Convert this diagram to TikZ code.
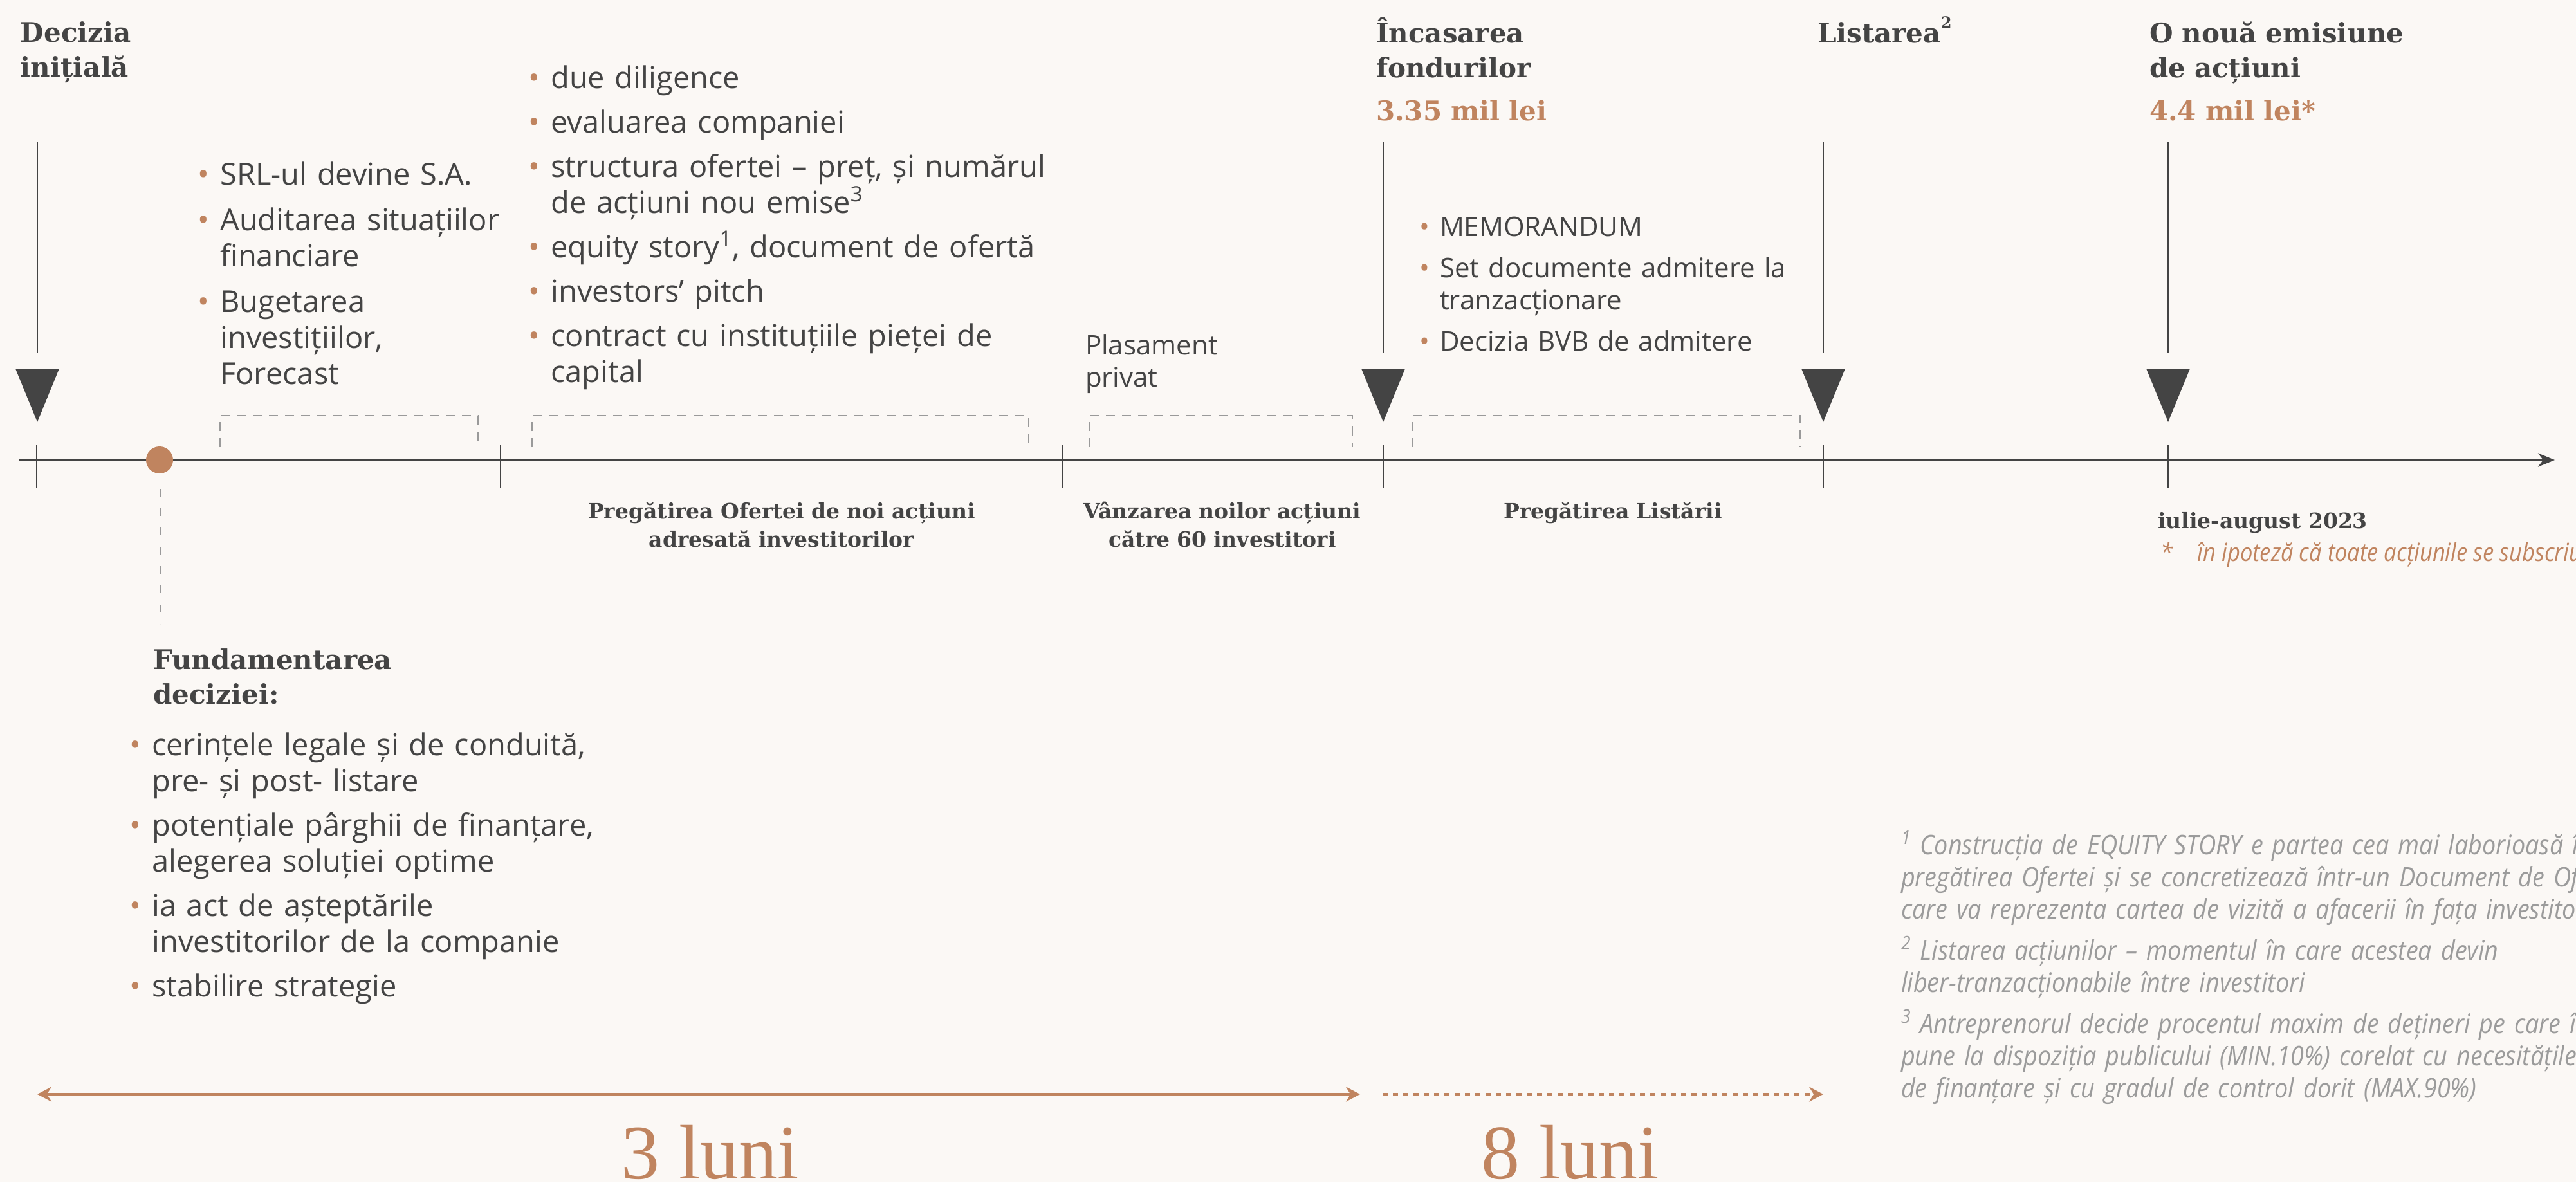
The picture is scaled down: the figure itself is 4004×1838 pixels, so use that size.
\documentclass[tikz,border=0pt]{standalone}
\usepackage{fontspec}
\setmainfont{Open Sans}
\newfontfamily\hdfont{DejaVu Serif}
\newfontfamily\bigserif{Liberation Serif}
\newfontfamily\condit[FakeStretch=0.885]{Open Sans Italic}
\newfontfamily\fnit[FakeStretch=0.9]{Open Sans Italic}
\usetikzlibrary{arrows.meta}
\definecolor{bg}{HTML}{FBF8F5}
\definecolor{accent}{HTML}{C0845F}
\definecolor{ink}{HTML}{444444}
\definecolor{dashgray}{HTML}{9A9A9A}
\definecolor{fngray}{HTML}{9B9B9B}
\newcommand{\bl}{\makebox[0.75em][l]{\textcolor{accent}{•}}}
\newcommand{\ct}{\hspace*{0.75em}}
\begin{document}
\begin{tikzpicture}[x=0.5pt,y=-0.5pt,
  every node/.style={inner sep=0pt,outer sep=0pt},
  heading/.style={font=\hdfont\bfseries\fontsize{21}{27}\selectfont,text=ink,anchor=base west,text width=300pt,align=left},
  seclabel/.style={font=\hdfont\bfseries\fontsize{16.5}{22}\selectfont,text=ink,anchor=base,text width=400pt,align=center},
  biglist/.style={font=\fontsize{23.5}{28}\selectfont,text=ink,anchor=base west,text width=450pt,align=left},
  smalllist/.style={font=\fontsize{21}{25}\selectfont,text=ink,anchor=base west,text width=350pt,align=left},
  fnote/.style={font=\fnit\fontsize{21}{25}\selectfont,text=fngray,anchor=base west,text width=700pt,align=left},
  axisline/.style={draw=ink,line width=1.5pt},
  markline/.style={draw=ink,line width=1.3pt},
  tickline/.style={draw=ink,line width=1.3pt},
  bracket/.style={draw=dashgray,line width=0.8pt,dash pattern=on 7pt off 5.5pt},
  spanarrow/.style={draw=accent,line width=1.6pt},
  duration/.style={font=\bigserif\fontsize{60}{62}\selectfont,text=accent,anchor=base west},
]
\useasboundingbox (0,0) rectangle (4004,1838);
\fill[bg] (0,0) rectangle (4004,1838);

% main axis
\coordinate (ax0) at (30,715);
\coordinate (ax1) at (3971,715);
\draw[axisline,-{Stealth[length=13pt,width=10.5pt,inset=4pt]}] (ax0) -- (ax1);

% ticks
\foreach \x in {57,778,1652,2150,2834,3370}{
  \draw[tickline] (\x,691) -- (\x,758);
}

% milestone markers
\foreach \n/\x in {d/58,i/2150,l/2834,o/3370}{
  \coordinate (top-\n) at (\x,220);
  \coordinate (bot-\n) at (\x,548);
  \draw[markline] (top-\n) -- (bot-\n);
  \fill[ink] (\x-34,573) -- (\x+34,573) -- (\x,656) -- cycle;
}

% dashed brackets
\draw[bracket] (342,695) -- (342,646) -- (743,646) -- (743,695);
\draw[bracket] (827,695) -- (827,646) -- (1599,646) -- (1599,695);
\draw[bracket] (1693,695) -- (1693,646) -- (2102,646) -- (2102,695);
\draw[bracket] (2195,695) -- (2195,646) -- (2798,646) -- (2798,695);

% decision dot
\node[circle,fill=accent,minimum size=21pt] (dot) at (248,715) {};
\coordinate (dotline) at (250,970);
\draw[draw=dashgray,line width=0.8pt,dash pattern=on 6pt off 9pt] (250,760) -- (dotline);

% headings
\node[heading] (h1) at (32,65) {Decizia\\inițială};
\node[heading] (h2) at (2139,66) {Încasarea\\fondurilor};
\node[heading,text=accent] (h2v) at (2139,187) {3.35 mil lei};
\node[heading] (h3) at (2825,66) {Listarea\raisebox{1.05ex}{\fontsize{12}{12}\selectfont 2}};
\node[heading] (h4) at (3341,66) {O nouă emisiune\\de acțiuni};
\node[heading,text=accent] (h4v) at (3341,187) {4.4 mil lei*};
\node[heading] (h5) at (238,1040) {Fundamentarea\\deciziei:};

% lists above axis
\node[biglist] (c1) at (307,287) {\bl SRL-ul devine S.A.\\[7.5pt]\bl Auditarea situațiilor\\\ct financiare\\[7.5pt]\bl Bugetarea\\\ct investițiilor,\\\ct Forecast};
\node[biglist] (c2) at (821,137.5) {\bl due diligence\\[6.5pt]\bl evaluarea companiei\\[6.5pt]\bl structura ofertei – preț, și numărul\\\ct de acțiuni nou emise\textsuperscript{3}\\[6.5pt]\bl equity story\textsuperscript{1}, document de ofertă\\[6.5pt]\bl investors’ pitch\\[6.5pt]\bl contract cu instituțiile pieței de\\\ct capital};
\node[smalllist] (c3) at (1687,551) {Plasament\\privat};
\node[smalllist] (c4) at (2206.5,367) {\bl MEMORANDUM\\[7pt]\bl Set documente admitere la\\\ct tranzacționare\\[7pt]\bl Decizia BVB de admitere};

% list below axis
\node[biglist] (c5) at (201,1174) {\bl cerințele legale și de conduită,\\\ct pre- și post- listare\\[6.5pt]\bl potențiale pârghii de finanțare,\\\ct alegerea soluției optime\\[6.5pt]\bl ia act de așteptările\\\ct investitorilor de la companie\\[6.5pt]\bl stabilire strategie};

% phase labels
\node[seclabel] (p1) at (1215,806) {Pregătirea Ofertei de noi acțiuni\\adresată investitorilor};
\node[seclabel] (p2) at (1900,806) {Vânzarea noilor acțiuni\\către 60 investitori};
\node[seclabel] (p3) at (2507,806) {Pregătirea Listării};
\node[font=\hdfont\bfseries\fontsize{16.5}{22}\selectfont,text=ink,anchor=base west] (date) at (3354,821) {iulie-august 2023};
\node[font=\condit\fontsize{19.5}{22}\selectfont,text=accent,anchor=base west] (star) at (3358,872) {*\quad în ipoteză că toate acțiunile se subscriu};

% footnotes
\node[fnote] (fn) at (2955,1328) {\textsuperscript{1} Construcția de EQUITY STORY e partea cea mai laborioasă în\\pregătirea Ofertei și se concretizează într-un Document de Ofertă,\\care va reprezenta cartea de vizită a afacerii în fața investitorilor\\[7pt]\textsuperscript{2} Listarea acțiunilor – momentul în care acestea devin\\liber-tranzacționabile între investitori\\[7pt]\textsuperscript{3} Antreprenorul decide procentul maxim de dețineri pe care îl\\pune la dispoziția publicului (MIN.10\%) corelat cu necesitățile\\de finanțare și cu gradul de control dorit (MAX.90\%)};

% duration arrows
\coordinate (a0) at (58,1701);
\coordinate (a1) at (2114,1701);
\coordinate (b0) at (2149,1701);
\coordinate (b1) at (2834,1701);
\draw[spanarrow,{Stealth[length=11pt,width=11.5pt]}-{Stealth[length=11pt,width=11.5pt]}] (a0) -- (a1);
\draw[spanarrow,dash pattern=on 4pt off 4pt,-{Stealth[length=11pt,width=11.5pt]}] (b0) -- (b1);
\node[duration] (m3) at (965,1832) {3 luni};
\node[duration] (m8) at (2302,1832) {8 luni};
\end{tikzpicture}
\end{document}
